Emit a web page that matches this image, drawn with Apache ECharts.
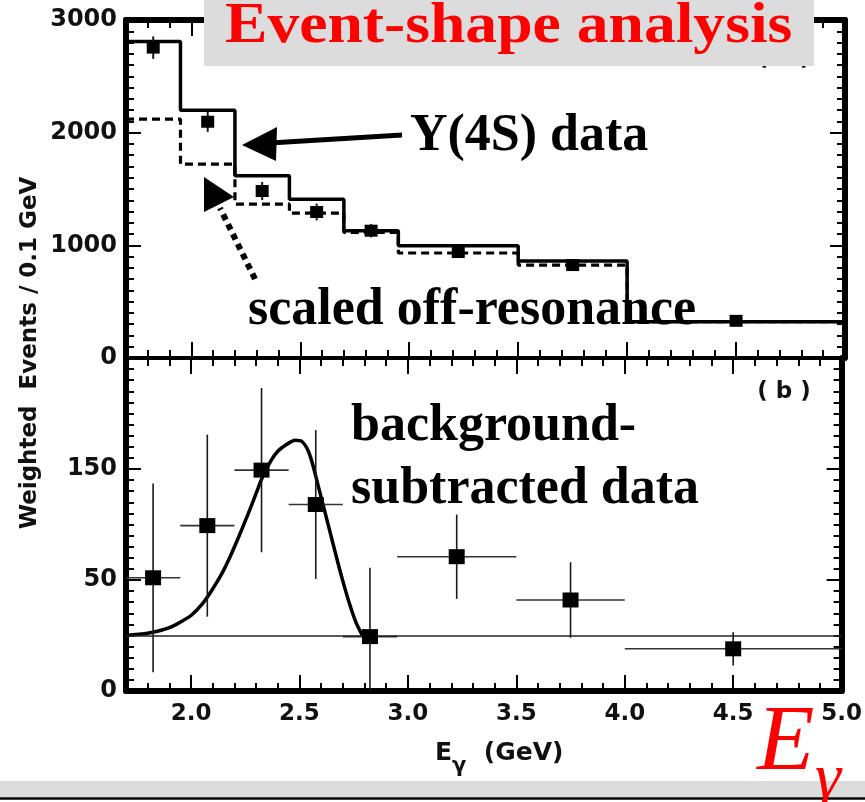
<!DOCTYPE html>
<html>
<head>
<meta charset="utf-8">
<script src="https://cdn.jsdelivr.net/npm/echarts@6/dist/echarts.min.js"></script>
<style>
  html, body { margin: 0; padding: 0; background: #ffffff; }
  #chart { width: 865px; height: 802px; }
</style>
</head>
<body>
<div id="chart"></div>
<script>
// ---- data ----
const binEdges = [1.7, 1.95, 2.2, 2.45, 2.7, 2.95, 3.5, 4.0, 5.0];
const binCenters = [1.825, 2.075, 2.325, 2.575, 2.825, 3.225, 3.75, 4.5];
const onResonance = [2810, 2200, 1618, 1410, 1130, 997, 860, 322];
const offResonanceScaled = [2120, 1720, 1365, 1285, 1115, 932, 825, 322];
const topPoints = [2755, 2097, 1482, 1296, 1130, 941, 825, 330];
const topErrors = [100, 90, 80, 75, 60, 45, 35, 25];
const subtractedPoints = [52, 99, 149, 118, -1, 71, 32, -12];
const subtractedErrors = [85, 82, 74, 67, 62, 38, 34, 15];
const fitEnergy = [1.70, 1.80, 1.85, 1.90, 1.95, 2.00, 2.05, 2.09, 2.14, 2.18, 2.22, 2.26, 2.30, 2.33, 2.37, 2.40, 2.44, 2.48, 2.51, 2.545, 2.59, 2.636, 2.67, 2.70, 2.73, 2.76, 2.79];
const fitValues = [0, 2, 4, 7, 12, 18, 28, 39, 55, 71, 89, 108, 128, 143, 158, 166, 172, 176, 175, 164, 132, 97, 71, 49, 29, 12, 0];
const xMajorTicks = [2.0, 2.5, 3.0, 3.5, 4.0, 4.5, 5.0];
const yTickLabelsTop = ['0', '1000', '2000', '3000'];
const yTickLabelsBottom = ['0', '50', '150', ''];

// minor tick positions every 0.1 GeV
const xMinorTicks = [];
for (let k = 17; k <= 50; k++) xMinorTicks.push(k / 10);

const FONT_AX = '"DejaVu Sans"';
const FONT_SERIF = '"Liberation Serif"';

function stepData(vals) {
  const d = vals.map((v, i) => [binEdges[i], v]);
  d.push([binEdges[binEdges.length - 1], vals[vals.length - 1]]);
  return d;
}
function errData(vals, errs) {
  return vals.map((v, i) => [binCenters[i], v, binEdges[i], binEdges[i + 1], v - errs[i], v + errs[i]]);
}
function makeErrRender(withH, lw) {
  return function (params, api) {
    const c = api.value(0), v = api.value(1), xl = api.value(2), xh = api.value(3), yl = api.value(4), yh = api.value(5);
    const a = api.coord([c, yl]), b = api.coord([c, yh]);
    const ch = [{ type: 'line', shape: { x1: a[0], y1: a[1], x2: b[0], y2: b[1] }, style: { stroke: '#1a1a1a', lineWidth: lw } }];
    if (withH) {
      const l = api.coord([xl, v]), r = api.coord([xh, v]);
      ch.push({ type: 'line', shape: { x1: l[0], y1: l[1], x2: r[0], y2: r[1] }, style: { stroke: '#333', lineWidth: 1.6 } });
    }
    return { type: 'group', children: ch };
  };
}

const GRID_L = 126, GRID_W = 719;
const tickStyle = { color: '#000', width: 2 };

function xAxisDef(gridIndex, position, major, lineWidth, extra) {
  return Object.assign({
    type: 'value', gridIndex, position, min: 1.7, max: 5.0,
    axisLine: { show: lineWidth > 0, onZero: false, lineStyle: { color: '#000', width: lineWidth } },
    axisTick: { show: true, inside: true, length: major ? 16 : 8, lineStyle: tickStyle, customValues: major ? xMajorTicks : xMinorTicks },
    axisLabel: { show: false },
    splitLine: { show: false }
  }, extra || {});
}
function yAxisDef(gridIndex, position, min, max, interval, labels) {
  return {
    type: 'value', gridIndex, position, min, max, interval,
    axisLine: { show: true, onZero: false, lineStyle: { color: '#000', width: 6 } },
    axisTick: { show: true, inside: true, length: 15, lineStyle: tickStyle },
    minorTick: { show: true, splitNumber: 10, length: 8, lineStyle: tickStyle },
    axisLabel: labels
      ? { margin: 9, formatter: (v, i) => labels[i], fontFamily: FONT_AX, fontWeight: 'bold', fontSize: 24, color: '#111' }
      : { show: false },
    splitLine: { show: false }
  };
}

const option = {
  backgroundColor: '#ffffff',
  animation: false,
  grid: [
    { left: GRID_L, top: 20, width: GRID_W, height: 338 },
    { left: GRID_L, top: 358, width: GRID_W, height: 333 }
  ],
  xAxis: [
    xAxisDef(0, 'bottom', false, 4),
    xAxisDef(0, 'bottom', true, 0),
    xAxisDef(0, 'top', false, 6),
    xAxisDef(0, 'top', true, 0),
    xAxisDef(1, 'bottom', false, 6, {
      axisLabel: {
        show: true, customValues: xMajorTicks, margin: 12,
        formatter: v => v.toFixed(1),
        fontFamily: FONT_AX, fontWeight: 'bold', fontSize: 23, color: '#111'
      }
    }),
    xAxisDef(1, 'bottom', true, 0),
    xAxisDef(1, 'top', false, 4),
    xAxisDef(1, 'top', true, 0)
  ],
  yAxis: [
    yAxisDef(0, 'left', 0, 3000, 1000, yTickLabelsTop),
    yAxisDef(0, 'right', 0, 3000, 1000, null),
    yAxisDef(1, 'left', -50, 250, 100, yTickLabelsBottom),
    yAxisDef(1, 'right', -50, 250, 100, null)
  ],
  series: [
    {
      name: 'Y(4S) data', type: 'line', xAxisIndex: 0, yAxisIndex: 0, step: 'end',
      data: stepData(onResonance), showSymbol: false,
      lineStyle: { color: '#000', width: 3.5 }, z: 3
    },
    {
      name: 'scaled off-resonance', type: 'line', xAxisIndex: 0, yAxisIndex: 0, step: 'end',
      data: stepData(offResonanceScaled), showSymbol: false,
      lineStyle: { color: '#000', width: 3.2, type: [8, 5] }, z: 3
    },
    {
      type: 'custom', xAxisIndex: 0, yAxisIndex: 0, clip: true,
      renderItem: makeErrRender(false, 2), data: errData(topPoints, topErrors), z: 4
    },
    {
      type: 'scatter', xAxisIndex: 0, yAxisIndex: 0, symbol: 'rect', symbolSize: [13, 12],
      data: binCenters.map((c, i) => [c, topPoints[i]]), itemStyle: { color: '#000', opacity: 1 }, z: 5
    },
    {
      name: 'fit', type: 'line', xAxisIndex: 4, yAxisIndex: 2, smooth: 0.3,
      data: fitEnergy.map((e, i) => [e, fitValues[i]]), showSymbol: false,
      lineStyle: { color: '#000', width: 3.5 }, z: 3,
      markLine: {
        silent: true, symbol: 'none', label: { show: false },
        lineStyle: { color: '#222', width: 1.6, type: 'solid' },
        data: [{ yAxis: 0 }]
      }
    },
    {
      type: 'custom', xAxisIndex: 4, yAxisIndex: 2, clip: true,
      renderItem: makeErrRender(true, 1.6), data: errData(subtractedPoints, subtractedErrors), z: 4
    },
    {
      type: 'scatter', xAxisIndex: 4, yAxisIndex: 2, symbol: 'rect', symbolSize: [16, 15],
      data: binCenters.map((c, i) => [c, subtractedPoints[i]]), itemStyle: { color: '#000', opacity: 1 }, z: 5
    }
  ],
  graphic: [
    // y-axis title
    { type: 'text', x: 30, y: 353, rotation: Math.PI / 2, z: 10,
      style: { text: 'Weighted  Events / 0.1 GeV', font: 'bold 23px ' + FONT_AX, fill: '#111', align: 'center', verticalAlign: 'middle', textAlign: 'center', textVerticalAlign: 'middle' } },
    // x-axis title
    { type: 'text', x: 435, y: 759, z: 10,
      style: {
        text: '{e|E}{g|γ}{e|  (GeV)}', align: 'left', verticalAlign: 'middle', textAlign: 'left', textVerticalAlign: 'middle',
        rich: {
          e: { font: 'bold 25px ' + FONT_AX, fill: '#111', color: '#111', lineHeight: 28, verticalAlign: 'top' },
          g: { font: 'bold 21px ' + FONT_AX, fill: '#111', color: '#111', lineHeight: 36, verticalAlign: 'bottom' }
        }
      } },
    // panel tags
    { type: 'text', x: 784, y: 59, z: 10,
      style: { text: '( a )', font: 'bold 23px ' + FONT_AX, fill: '#111', align: 'center', verticalAlign: 'middle', textAlign: 'center', textVerticalAlign: 'middle' } },
    { type: 'text', x: 784, y: 392, z: 10,
      style: { text: '( b )', font: 'bold 23px ' + FONT_AX, fill: '#111', align: 'center', verticalAlign: 'middle', textAlign: 'center', textVerticalAlign: 'middle' } },
    // title box
    { type: 'rect', shape: { x: 204, y: 0, width: 610, height: 66 }, style: { fill: '#dcdcdc' }, z: 100 },
    { type: 'text', x: 225, y: 28, scaleX: 1.136, z: 101,
      style: { text: 'Event-shape analysis', font: 'bold 56px ' + FONT_SERIF, fill: '#ff0000', align: 'left', verticalAlign: 'middle', textAlign: 'left', textVerticalAlign: 'middle' } },
    // annotations
    { type: 'text', x: 410, y: 137, z: 20,
      style: { text: 'Y(4S) data', font: 'bold 52px ' + FONT_SERIF, fill: '#000', align: 'left', verticalAlign: 'middle', textAlign: 'left', textVerticalAlign: 'middle' } },
    { type: 'text', x: 248, y: 311, z: 20,
      style: { text: 'scaled off-resonance', font: 'bold 52px ' + FONT_SERIF, fill: '#000', align: 'left', verticalAlign: 'middle', textAlign: 'left', textVerticalAlign: 'middle' } },
    { type: 'text', x: 351, y: 427, z: 20,
      style: { text: 'background-', font: 'bold 52px ' + FONT_SERIF, fill: '#000', align: 'left', verticalAlign: 'middle', textAlign: 'left', textVerticalAlign: 'middle' } },
    { type: 'text', x: 351, y: 490, z: 20,
      style: { text: 'subtracted data', font: 'bold 52px ' + FONT_SERIF, fill: '#000', align: 'left', verticalAlign: 'middle', textAlign: 'left', textVerticalAlign: 'middle' } },
    // solid arrow to Y(4S) histogram
    { type: 'line', z: 20, shape: { x1: 402, y1: 135, x2: 270, y2: 143 }, style: { stroke: '#000', lineWidth: 5 } },
    { type: 'polygon', z: 20, shape: { points: [[242, 145], [277, 127], [276, 161]] }, style: { fill: '#000' } },
    // dotted arrow to off-resonance histogram
    { type: 'line', z: 20, shape: { x1: 255, y1: 279, x2: 220, y2: 208 }, style: { stroke: '#000', lineWidth: 6, lineDash: [6, 5] } },
    { type: 'polygon', z: 20, shape: { points: [[204, 177], [204, 212], [234, 197]] }, style: { fill: '#000' } },
    // bottom band
    { type: 'rect', z: 5, shape: { x: 0, y: 781, width: 865, height: 16 }, style: { fill: '#dcdcdc' } },
    { type: 'line', z: 6, shape: { x1: 0, y1: 798.5, x2: 865, y2: 798.5 }, style: { stroke: '#000', lineWidth: 2.5 } },
    // red E_gamma
    { type: 'text', x: 757, y: 744, z: 30,
      style: { text: 'E', font: 'italic 94px ' + FONT_SERIF, fill: '#ff0000', align: 'left', verticalAlign: 'middle', textAlign: 'left', textVerticalAlign: 'middle' } },
    { type: 'text', x: 815, y: 781, z: 30,
      style: { text: 'γ', font: 'italic 66px ' + FONT_SERIF, fill: '#ff0000', align: 'left', verticalAlign: 'middle', textAlign: 'left', textVerticalAlign: 'middle' } }
  ]
};

const chart = echarts.init(document.getElementById('chart'), null, { renderer: 'canvas' });
chart.setOption(option);
</script>
</body>
</html>
